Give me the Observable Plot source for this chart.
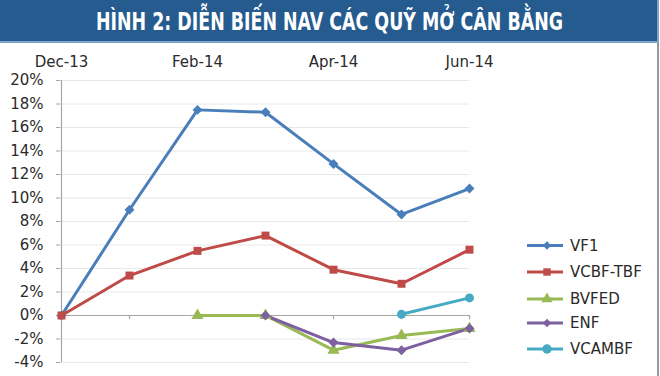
<!DOCTYPE html>
<html>
<head>
<meta charset="utf-8">
<script src="https://cdn.jsdelivr.net/npm/d3@7"></script>
<script src="https://cdn.jsdelivr.net/npm/@observablehq/plot@0.6"></script>
<style>
  html, body { margin: 0; padding: 0; background: #fff; }
  #wrap { position: relative; width: 660px; height: 376px; overflow: hidden; background: #fff; font-family: "DejaVu Sans", Verdana, sans-serif; }
  #banner { position: absolute; left: 0; top: 0; width: 657px; height: 41px; background: #255b8f; border-bottom: 2px solid #7ea3cc; border-right: 2px solid #7ea3cc; }
  #title { position: absolute; left: 96px; top: 5px; height: 34px; line-height: 34px; white-space: nowrap; color: #fff; font-family: "Liberation Sans Narrow", "DejaVu Sans Condensed", Roboto, sans-serif; font-weight: bold; font-size: 25px; transform-origin: 0 50%; }
  #chart { position: absolute; left: 0; top: 42px; }
  #legend { position: absolute; left: 520px; top: 230px; }
  #border { position: absolute; left: 657px; top: 43px; width: 2px; height: 333px; background: #9a9a9a; }
</style>
</head>
<body>
<div id="wrap">
  <div id="banner"><span id="title"></span></div>
  <div id="chart"></div>
  <div id="legend"></div>
  <div id="border"></div>
</div>
<script>
const title = "HÌNH 2: DIỄN BIẾN NAV CÁC QUỸ MỞ CÂN BẰNG";
const months = ["Dec-13", "Jan-14", "Feb-14", "Mar-14", "Apr-14", "May-14", "Jun-14"];
const tickLabels = ["Dec-13", "Feb-14", "Apr-14", "Jun-14"];
const yTicks = [-4, -2, 0, 2, 4, 6, 8, 10, 12, 14, 16, 18, 20];

const seriesNames = ["VF1", "VCBF-TBF", "BVFED", "ENF", "VCAMBF"];
const seriesColors = ["#4a7ebb", "#be4b48", "#98b954", "#7d60a0", "#46aac5"];
const seriesSymbols = ["diamond2", "square", "triangle", "diamond2", "circle"];

const VF1 = [0, 9.0, 17.5, 17.3, 12.9, 8.6, 10.8];
const VCBF_TBF = [0, 3.4, 5.5, 6.8, 3.9, 2.7, 5.6];
const BVFED = [null, null, 0, 0, -2.95, -1.7, -1.1];
const ENF = [null, null, null, 0, -2.3, -2.95, -1.1];
const VCAMBF = [null, null, null, null, null, 0.1, 1.5];

const seriesValues = [VF1, VCBF_TBF, BVFED, ENF, VCAMBF];

const rows = [];
seriesNames.forEach((name, i) => {
  seriesValues[i].forEach((v, j) => {
    if (v !== null) rows.push({series: name, month: months[j], value: v});
  });
});

// Title: fit to the width of the reference banner text
const t = document.getElementById("title");
t.textContent = title;
const natural = t.getBoundingClientRect().width;
t.style.transform = `scaleX(${467 / natural})`;

const gridTicks = yTicks.filter(d => d !== 0);

const marks = [
  Plot.gridY(gridTicks, {stroke: "#d9d9d9", strokeOpacity: 0.6, strokeWidth: 1}),
  Plot.ruleY([0], {stroke: "#a6a6a6", strokeWidth: 1.2}),
  Plot.ruleX(months, {x: d => d, y1: 0, y2: -0.35, stroke: "#a6a6a6", strokeWidth: 1.2}),
  Plot.ruleX([months[0]], {x: d => d, y1: -4, y2: 20, stroke: "#a6a6a6", strokeWidth: 1.2}),
  Plot.axisY(yTicks, {tickSize: 4, tickPadding: 13, tickFormat: d => d + "%", stroke: "#a6a6a6", fill: "#2a2a2a", fontSize: 15}),
  Plot.axisX(tickLabels, {anchor: "top", tickSize: 0, tickPadding: 14, fill: "#2a2a2a", fontSize: 15}),
  Plot.line(rows, {x: "month", y: "value", z: "series", stroke: "series", strokeWidth: 3, strokeLinejoin: "round"}),
  Plot.dot(rows, {x: "month", y: "value", fill: "series", symbol: "series", r: 4.5, stroke: null})
];

const chart = Plot.plot({
  width: 660,
  height: 334,
  marginLeft: 60,
  marginRight: 191,
  marginTop: 38,
  marginBottom: 14,
  style: {fontFamily: "'DejaVu Sans', Verdana, sans-serif", fontSize: "15px", background: "transparent"},
  x: {type: "point", domain: months, padding: 0, label: null, axis: null},
  y: {domain: [-4, 20], label: null, axis: null},
  color: {domain: seriesNames, range: seriesColors},
  symbol: {domain: seriesNames, range: seriesSymbols},
  marks
});
document.getElementById("chart").appendChild(chart);

// Legend
const lsvg = d3.create("svg").attr("width", 140).attr("height", 140);
const ly = [15.5, 42, 69, 93, 119];
const sym = {diamond2: d3.symbolDiamond2, square: d3.symbolSquare, triangle: d3.symbolTriangle, circle: d3.symbolCircle};
seriesNames.forEach((name, i) => {
  const g = lsvg.append("g").attr("transform", `translate(0,${ly[i]})`);
  g.append("line").attr("x1", 7).attr("x2", 43).attr("y1", 0).attr("y2", 0)
    .attr("stroke", seriesColors[i]).attr("stroke-width", 3);
  const s = seriesSymbols[i];
  const size = s === "diamond2" ? 45 : s === "square" ? 55 : s === "triangle" ? 55 : 70;
  g.append("path").attr("transform", "translate(27,0)").attr("d", d3.symbol(sym[s], size)())
    .attr("fill", seriesColors[i]);
  g.append("text").attr("x", 50).attr("y", 0).attr("dy", "0.35em")
    .attr("font-family", "'DejaVu Sans', Verdana, sans-serif").attr("font-size", 15)
    .attr("fill", "#2a2a2a").text(name);
});
document.getElementById("legend").appendChild(lsvg.node());
</script>
</body>
</html>
